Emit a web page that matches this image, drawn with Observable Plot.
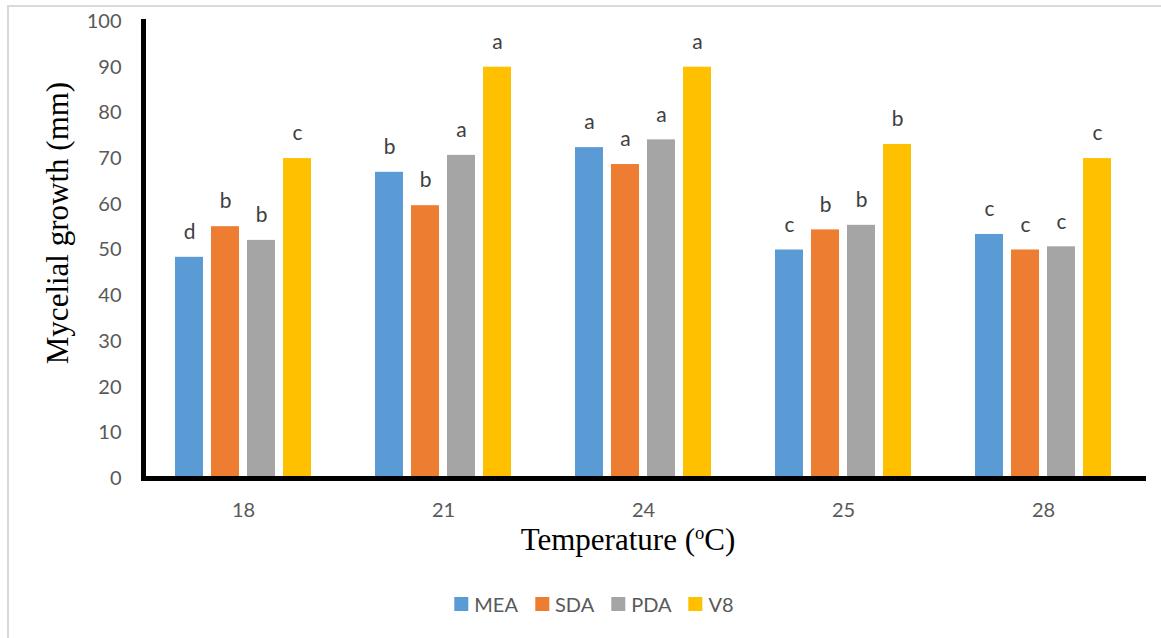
<!DOCTYPE html>
<html>
<head>
<meta charset="utf-8">
<script src="https://cdn.jsdelivr.net/npm/d3@7"></script>
<script src="https://cdn.jsdelivr.net/npm/@observablehq/plot@0.6"></script>
<style>
  html, body { margin: 0; padding: 0; background: #fff; }
  #wrap { position: relative; width: 1161px; height: 638px; overflow: hidden; }
  #border { position: absolute; left: 7px; top: 5px; width: 1200px; height: 700px; border: 2px solid #d9d9d9; box-sizing: border-box; }
  #chart { position: absolute; left: 0; top: 0; }
  #ylabel { position: absolute; left: 57px; top: 223px; transform: translate(-50%, -50%) rotate(-90deg); white-space: nowrap;
            font-family: "Liberation Serif", "Times New Roman", serif; font-size: 31px; color: #000; line-height: 1; }
  #xlabel { position: absolute; left: 628px; top: 539px; transform: translate(-50%, -50%); white-space: nowrap;
            font-family: "Liberation Serif", "Times New Roman", serif; font-size: 31px; color: #000; line-height: 1; }
  #xlabel sup { font-size: 60%; vertical-align: 0.55em; line-height: 0; }
  #legend { position: absolute; left: 594px; top: 604px; transform: translate(-50%, -50%); display: flex; gap: 17px; align-items: center;
            font-family: Lato, "Open Sans", sans-serif; font-size: 20px; color: #595959; white-space: nowrap; }
  #legend .item { display: flex; align-items: center; gap: 6px; }
  #legend .sw { width: 14px; height: 14px; display: inline-block; }
</style>
</head>
<body>
<div id="wrap">
  <div id="border"></div>
  <div id="chart"></div>
  <div id="ylabel">Mycelial growth (mm)</div>
  <div id="xlabel">Temperature (<sup>o</sup>C)</div>
  <div id="legend"></div>
</div>
<script>
const temperatures = ["18", "21", "24", "25", "28"];
const media = ["MEA", "SDA", "PDA", "V8"];
const colors = ["#5B9BD5", "#ED7D31", "#A5A5A5", "#FFC000"];
const yTicks = [0, 10, 20, 30, 40, 50, 60, 70, 80, 90, 100];

const MEA = [48.4, 67.0, 72.4, 50.0, 53.4];
const SDA = [55.1, 59.7, 68.7, 54.4, 50.0];
const PDA = [52.1, 70.7, 74.1, 55.4, 50.7];
const V8  = [70.0, 90.0, 90.0, 73.1, 70.0];

const MEA_letters = ["d", "b", "a", "c", "c"];
const SDA_letters = ["b", "b", "a", "b", "c"];
const PDA_letters = ["b", "a", "a", "b", "c"];
const V8_letters  = ["c", "a", "a", "b", "c"];

const seriesValues = {MEA, SDA, PDA, V8};
const seriesLetters = {MEA: MEA_letters, SDA: SDA_letters, PDA: PDA_letters, V8: V8_letters};

const data = [];
temperatures.forEach((t, i) => {
  media.forEach(m => {
    data.push({temperature: t, medium: m, value: seriesValues[m][i], letter: seriesLetters[m][i]});
  });
});

const plot = Plot.plot({
  width: 1161,
  height: 520,
  marginTop: 21,
  marginBottom: 42,
  marginLeft: 143,
  marginRight: 18,
  style: {fontFamily: "Lato, 'Open Sans', sans-serif", background: "transparent", overflow: "visible"},
  fx: {domain: temperatures, paddingInner: 0, paddingOuter: 0, label: null},
  x: {domain: media, paddingInner: 0.23, paddingOuter: 0.87, axis: null},
  y: {domain: [0, 100], label: null},
  color: {domain: media, range: colors},
  marks: [
    Plot.barY(data, {fx: "temperature", x: "medium", y: "value", fill: "medium"}),
    Plot.text(data, {fx: "temperature", x: "medium", y: "value", text: "letter", dy: -25,
                     fontSize: 21, fill: "#404040", lineAnchor: "middle"}),
    Plot.axisY({ticks: yTicks, tickSize: 0, tickPadding: 22, fontSize: 20, color: "#595959", label: null}),
    Plot.axisFx({anchor: "bottom", tickSize: 0, tickPadding: 24, fontSize: 20, color: "#595959", label: null}),
    Plot.frame({anchor: "left", facet: "super", stroke: "#000", strokeWidth: 5}),
    Plot.frame({anchor: "bottom", facet: "super", stroke: "#000", strokeWidth: 5})
  ]
});
document.getElementById("chart").appendChild(plot);

const legend = document.getElementById("legend");
media.forEach((m, i) => {
  const item = document.createElement("span");
  item.className = "item";
  item.innerHTML = `<span class="sw" style="background:${colors[i]}"></span><span>${m}</span>`;
  legend.appendChild(item);
});
</script>
</body>
</html>
